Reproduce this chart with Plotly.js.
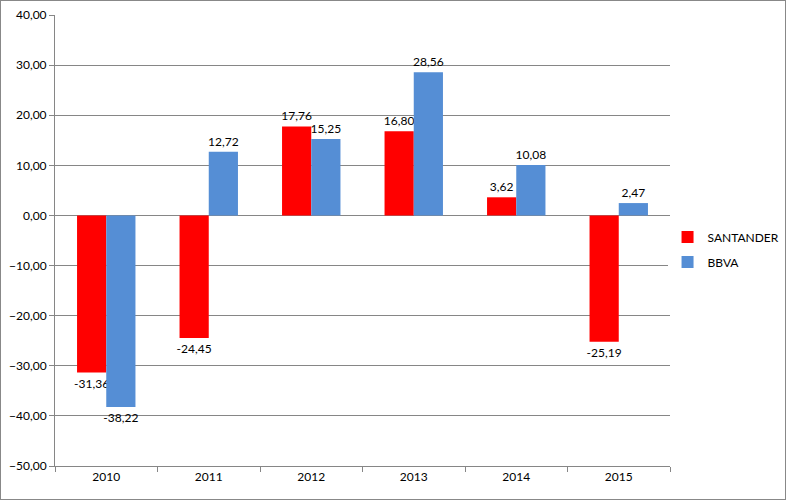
<!DOCTYPE html>
<html><head><meta charset="utf-8">
<script src="https://cdn.plot.ly/plotly-3.0.1.min.js"></script>
<style>
html,body{margin:0;padding:0;background:#fff;}
#chart{width:786px;height:500px;box-sizing:border-box;border:1px solid #888;}
</style></head>
<body><div id="chart"></div>
<script>
const years = ['2010','2011','2012','2013','2014','2015'];
const santander = [-31.36, -24.45, 17.76, 16.80, 3.62, -25.19];
const bbva = [-38.22, 12.72, 15.25, 28.56, 10.08, 2.47];
const yTicks = [-50,-40,-30,-20,-10,0,10,20,30,40];

const font = {family: 'Lato, "Liberation Sans", sans-serif', size: 12, color: '#000'};
const data = [
  {type:'bar', name:'SANTANDER', x: years, y: santander, marker:{color:'#FF0000'}, legendgroup:'a',
   texttemplate:'%{y:.2f}', textposition:'outside', cliponaxis:false, constraintext:'none', textfont:font},
  {type:'bar', name:'BBVA', x: years, y: bbva, marker:{color:'#558ED5'}, legendgroup:'b',
   texttemplate:'%{y:.2f}', textposition:'outside', cliponaxis:false, constraintext:'none', textfont:font}
];
const layout = {
  width:784, height:498,
  margin:{l:54, r:115, t:14, b:33, autoexpand:false},
  separators:',.',
  font: font,
  paper_bgcolor:'#fff', plot_bgcolor:'#fff',
  bargap:0.43, bargroupgap:0,
  showlegend:true,
  legend:{x:0.996, y:0.48, xanchor:'left', yanchor:'middle', font:font, tracegroupgap:6,
          traceorder:'grouped', itemwidth:30},
  xaxis:{type:'category', showgrid:false, showline:true, linecolor:'#868686', linewidth:1,
         ticks:'outside', tickson:'boundaries', ticklen:5, tickcolor:'#868686', tickfont:font},
  yaxis:{range:[-50,40], tickvals:yTicks, tickformat:'.2f', showgrid:true, gridcolor:'#868686',
         gridwidth:1, zeroline:false, showline:true, linecolor:'#868686', ticks:'outside',
         ticklen:5, tickcolor:'#868686', tickfont:font}
};
Plotly.newPlot('chart', data, layout, {displayModeBar:false, staticPlot:true});
</script></body></html>
